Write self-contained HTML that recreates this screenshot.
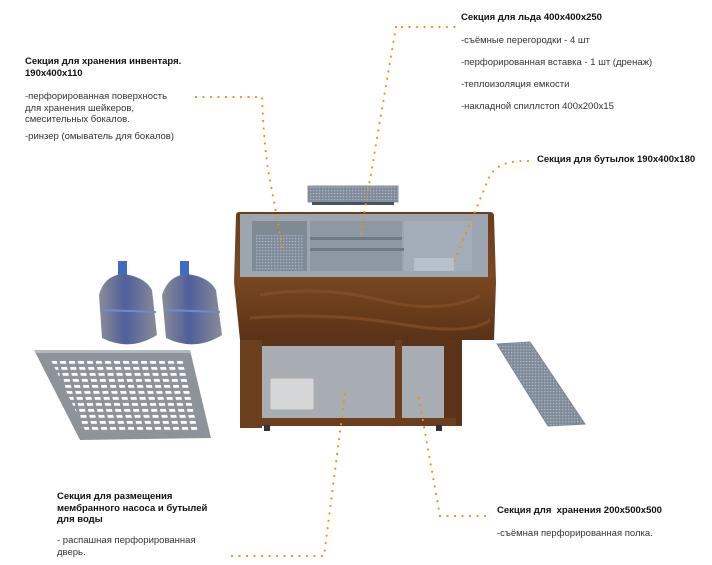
<!DOCTYPE html>
<html><head><meta charset="utf-8"><style>
html,body{margin:0;padding:0;background:#fff;}
body{width:712px;height:565px;position:relative;overflow:hidden;font-family:"Liberation Sans",sans-serif;color:#333;}
.t{position:absolute;font-size:9.5px;line-height:11.5px;white-space:nowrap;}
.b{color:#111;font-weight:bold;font-size:9.5px;}
svg{position:absolute;left:0;top:0;}
</style></head><body>
<svg width="712" height="565" viewBox="0 0 712 565">
<defs>
<pattern id="holes" x="0" y="0" width="9" height="6" patternUnits="userSpaceOnUse" patternTransform="skewX(12)">
<rect x="1" y="1" width="6" height="2.8" fill="#fff"/></pattern>
<pattern id="grid" width="3" height="3" patternUnits="userSpaceOnUse"><rect width="3" height="3" fill="#7a8796"/><rect x="0.8" y="0.8" width="1.6" height="1.6" fill="#a9b4c0"/></pattern>
<linearGradient id="wood" x1="0" y1="0" x2="0" y2="1"><stop offset="0" stop-color="#6a3d1c"/><stop offset="0.5" stop-color="#7a4822"/><stop offset="1" stop-color="#5a3216"/></linearGradient>
<linearGradient id="bot" x1="0" y1="0" x2="1" y2="0"><stop offset="0" stop-color="#8a8c98"/><stop offset="0.45" stop-color="#4f5f9a"/><stop offset="1" stop-color="#8a8c98"/></linearGradient>
</defs>
<!-- bottles -->
<g>
<rect x="118" y="261" width="9" height="14" fill="#3d6cc0"/>
<path d="M99 295 Q104 276 122 274 Q144 276 152 290 L157 335 Q130 352 102 338 Z" fill="url(#bot)"/>
<rect x="180" y="261" width="9" height="14" fill="#3d6cc0"/>
<path d="M162 295 Q168 276 186 274 Q208 276 216 290 L222 335 Q195 352 166 338 Z" fill="url(#bot)"/>
<path d="M102 310 L156 312 M165 310 L220 312" stroke="#6e8bd0" stroke-width="2"/>
</g>
<!-- door -->
<polygon points="34,350 190,350 211,438 80,440" fill="#8d939a"/>
<polygon points="50,358 182,358 200,430 86,432" fill="url(#holes)"/>
<polygon points="34,350 190,350 191,353 36,353" fill="#b4b9be"/>
<!-- top grate -->
<rect x="308" y="186" width="90" height="16" fill="url(#grid)" stroke="#8a96a4"/>
<rect x="312" y="202" width="82" height="3" fill="#4b525a"/>
<!-- right grate -->
<polygon points="497,344 530,342 585,424 548,426" fill="url(#grid)" stroke="#7a8796"/>
<!-- cabinet -->
<rect x="240" y="330" width="222" height="96" fill="#5a3418"/>
<rect x="262" y="346" width="133" height="72" fill="#a8adb3"/>
<rect x="402" y="346" width="42" height="72" fill="#a8adb3"/>
<rect x="395" y="338" width="7" height="85" fill="#6b3e1e"/>
<rect x="444" y="340" width="16" height="85" fill="#5e3419"/>
<rect x="240" y="338" width="22" height="90" fill="#6b3e1e"/>
<rect x="256" y="418" width="200" height="8" fill="#6b3e1e"/>
<rect x="270" y="378" width="44" height="32" fill="#d4d6d8" stroke="#aaa"/>
<rect x="264" y="425" width="6" height="6" fill="#333"/><rect x="436" y="425" width="6" height="6" fill="#333"/>
<path d="M236 215 Q236 212 240 212 L490 212 Q494 212 494 216 L496 282 L494 340 L240 340 L234 282 Z" fill="url(#wood)"/>
<path d="M260 295 Q320 285 380 300 T480 296 M250 318 Q330 312 400 324 T490 320" stroke="#8a5429" stroke-width="3" fill="none" opacity="0.6"/>
<rect x="240" y="214" width="248" height="63" fill="#9ba6b0"/>
<rect x="252" y="221" width="55" height="50" fill="#7f8a95"/>
<rect x="256" y="235" width="48" height="36" fill="url(#grid)"/>
<rect x="310" y="221" width="92" height="50" fill="#8d98a3"/>
<rect x="310" y="237" width="92" height="3" fill="#6e7984"/>
<rect x="310" y="248" width="98" height="3" fill="#6e7984"/>
<rect x="404" y="221" width="68" height="50" fill="#a3adb7"/>
<rect x="414" y="258" width="40" height="13" fill="#b8c1c9"/>
<!-- dotted leaders -->
<g fill="none" stroke="#f39200" stroke-width="2.2" stroke-linecap="round" stroke-dasharray="0 7.5">
<path d="M196 97 L262 97 Q264 150 270 180 L283 250"/>
<path d="M402 27 L456 27"/>
<path d="M396 27 L360 238"/>
<path d="M528 161 Q495 160 488 180 L454 262"/>
<path d="M232 556 L324 556 L345 393"/>
<path d="M440 516 L490 516"/>
<path d="M440 516 L418 393"/>
</g>
</svg>
<div class="t" style="left:25px;top:56px"><span class="b">Секция для хранения инвентаря.</span><br><span class="b">190х400х110</span></div>
<div class="t" style="left:25px;top:91px">-перфорированная поверхность<br>для хранения шейкеров,<br>смесительных бокалов.</div>
<div class="t" style="left:25px;top:131px">-ринзер (омыватель для бокалов)</div>
<div class="t b" style="left:461px;top:12px">Секция для льда 400х400х250</div>
<div class="t" style="left:461px;top:35px">-съёмные перегородки - 4 шт</div>
<div class="t" style="left:461px;top:57px">-перфорированная вставка - 1 шт (дренаж)</div>
<div class="t" style="left:461px;top:79px">-теплоизоляция емкости</div>
<div class="t" style="left:461px;top:101px">-накладной спиллстоп 400х200х15</div>
<div class="t b" style="left:537px;top:154px">Секция для бутылок 190х400х180</div>
<div class="t" style="left:57px;top:491px"><span class="b">Секция для размещения</span><br><span class="b">мембранного насоса и бутылей</span><br><span class="b">для воды</span></div>
<div class="t" style="left:57px;top:535px">- распашная перфорированная<br>дверь.</div>
<div class="t b" style="left:497px;top:505px">Секция для &nbsp;хранения 200х500х500</div>
<div class="t" style="left:497px;top:528px">-съёмная перфорированная полка.</div>
</body></html>
